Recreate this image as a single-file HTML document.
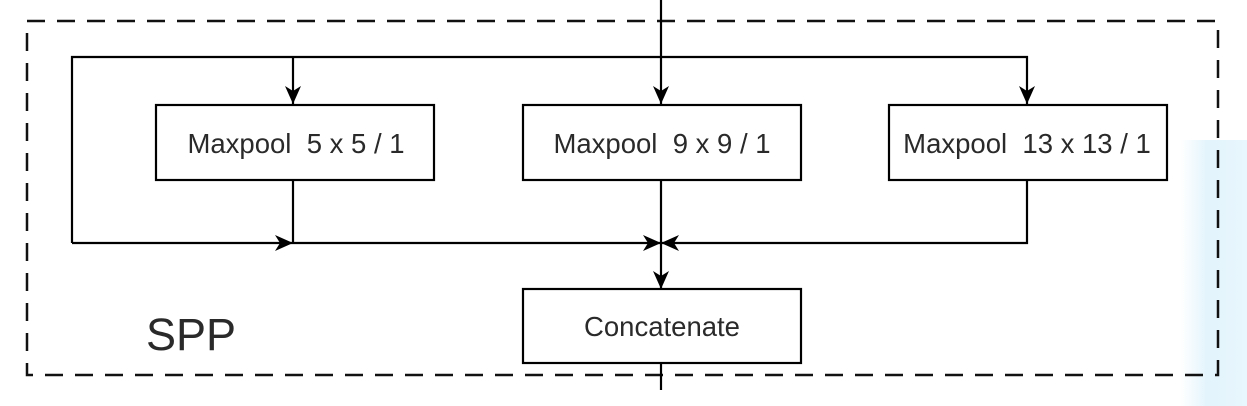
<!DOCTYPE html>
<html><head><style>
html,body{margin:0;padding:0;background:#fff;width:1247px;height:406px;overflow:hidden}
svg{display:block}
text{font-family:"Liberation Sans",Arial,sans-serif;fill:#2a2a2a}
</style></head><body>
<svg width="1247" height="406" viewBox="0 0 1247 406">
<defs>
<linearGradient id="g" x1="0" x2="1"><stop offset="0" stop-color="#e6f6fd" stop-opacity="0"/><stop offset="0.4" stop-color="#e3f4fc"/><stop offset="1" stop-color="#e8f6fd"/></linearGradient>
<marker id="a" viewBox="0 0 20 20" refX="18" refY="10" markerWidth="20" markerHeight="20" markerUnits="userSpaceOnUse" orient="auto">
<path d="M0,2 L18,10 L0,18 L5,10 Z" fill="#000"/></marker>
</defs>
<rect x="1180" y="140" width="67" height="266" fill="url(#g)"/>
<rect x="27" y="21" width="1191" height="354" fill="none" stroke="#111" stroke-width="2.5" stroke-dasharray="18,12"/>
<g stroke="#000" stroke-width="2.2" fill="none">
<line x1="661" y1="0" x2="661" y2="104" marker-end="url(#a)"/>
<polyline points="72,243 72,57 1027,57 1027,104" marker-end="url(#a)"/>
<line x1="293" y1="57" x2="293" y2="104" marker-end="url(#a)"/>
<line x1="293" y1="180" x2="293" y2="243"/>
<line x1="72" y1="243" x2="293" y2="243" marker-end="url(#a)"/>
<line x1="293" y1="243" x2="661" y2="243" marker-end="url(#a)"/>
<polyline points="1027,180 1027,243 661,243" marker-end="url(#a)"/>
<line x1="661" y1="180" x2="661" y2="289" marker-end="url(#a)"/>
<line x1="661" y1="363" x2="661" y2="390"/>
<rect x="156" y="105" width="278" height="75" fill="#fff"/>
<rect x="523" y="105" width="278" height="75" fill="#fff"/>
<rect x="889" y="105" width="278" height="75" fill="#fff"/>
<rect x="523" y="289" width="278" height="74" fill="#fff"/>
</g>
<text x="296" y="153" font-size="27.5" text-anchor="middle" xml:space="preserve">Maxpool  5 x 5 / 1</text>
<text x="662" y="153" font-size="27.5" text-anchor="middle" xml:space="preserve">Maxpool  9 x 9 / 1</text>
<text x="1027" y="153" font-size="27.5" text-anchor="middle" xml:space="preserve">Maxpool  13 x 13 / 1</text>
<text x="662" y="336" font-size="27.5" text-anchor="middle">Concatenate</text>
<text x="146" y="350" font-size="45">SPP</text>
</svg>
</body></html>
